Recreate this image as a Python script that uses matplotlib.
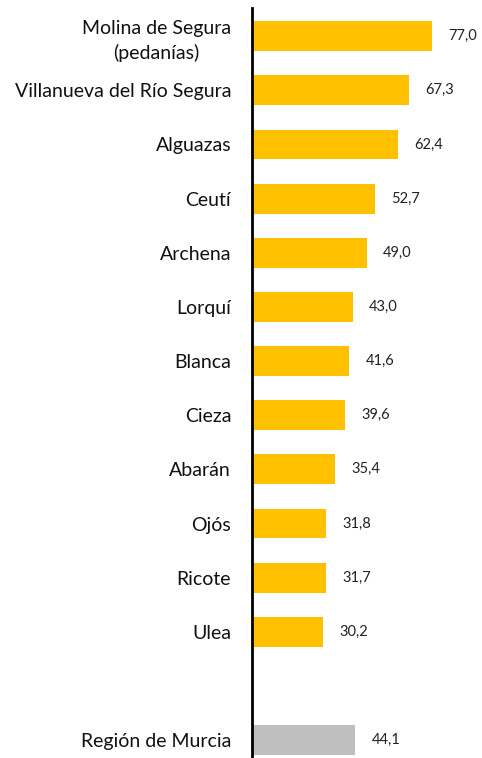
import matplotlib.pyplot as plt

municipios = ["Molina de Segura\n(pedanías)", "Villanueva del Río Segura", "Alguazas",
              "Ceutí", "Archena", "Lorquí", "Blanca", "Cieza", "Abarán", "Ojós",
              "Ricote", "Ulea", "", "Región de Murcia"]
valores = [77.0, 67.3, 62.4, 52.7, 49.0, 43.0, 41.6, 39.6, 35.4, 31.8, 31.7, 30.2, None, 44.1]

plt.rcParams['font.family'] = ['Lato', 'DejaVu Sans']

fig = plt.figure(figsize=(4.82, 7.58), dpi=100)
ax = fig.add_axes([252 / 482, 0, 230 / 482, 750 / 758])

for i, (nombre, v) in enumerate(zip(municipios, valores)):
    if v is None:
        continue
    color = "#BFBFBF" if nombre == "Región de Murcia" else "#FFC000"
    ax.barh(i, v, height=0.55, color=color)
    ax.text(v + 7, i, f"{v:.1f}".replace(".", ","), va="center", ha="left",
            fontsize=10.5, color="#222222")

ax.set_yticks(range(len(municipios)))
labels = ax.set_yticklabels(municipios, fontsize=14, color="#111111", linespacing=1.45)
for lb in labels:
    lb.set_multialignment("center")
ax.tick_params(axis="y", length=0, pad=15)
ax.set_xticks([])
ax.set_xlim(0, 98.4)
ax.set_ylim(13.33, -0.52)
for s in ["top", "right", "bottom"]:
    ax.spines[s].set_visible(False)
ax.spines["left"].set_linewidth(2)
ax.spines["left"].set_color("black")

plt.savefig("out.png", dpi=100)
